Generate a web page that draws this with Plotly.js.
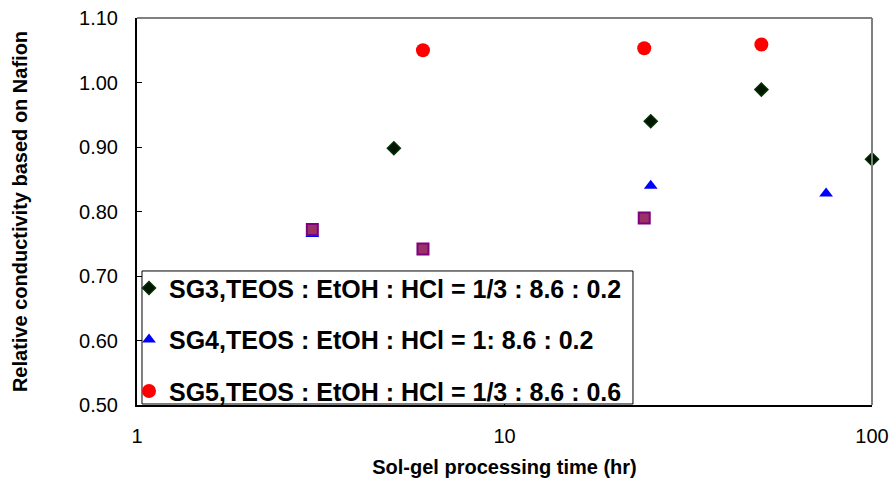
<!DOCTYPE html>
<html>
<head>
<meta charset="utf-8">
<script src="https://cdn.plot.ly/plotly-3.0.1.min.js"></script>
<style>html,body{margin:0;padding:0;background:#fff}#chart{width:893px;height:485px}</style>
</head>
<body>
<div id="chart"></div>
<script>
// Sol-gel processing time (hr)
const sg3Time = [5, 25, 50, 100];
const sg3Cond = [0.898, 0.940, 0.989, 0.881];
const sg4Time = [3, 25, 75];
const sg4Cond = [0.765, 0.840, 0.828];
const sg5Time = [6, 24, 50];
const sg5Cond = [1.050, 1.053, 1.059];
const extraTime = [3, 6, 24];
const extraCond = [0.772, 0.742, 0.790];

const sg3Name = 'SG3,TEOS : EtOH : HCl = 1/3 : 8.6 : 0.2';
const sg4Name = 'SG4,TEOS : EtOH : HCl = 1: 8.6 : 0.2';
const sg5Name = 'SG5,TEOS : EtOH : HCl = 1/3 : 8.6 : 0.6';
const yTicks = [0.5, 0.6, 0.7, 0.8, 0.9, 1.0, 1.1];
const xTicks = [1, 10, 100];

const traces = [
  {x: sg3Time, y: sg3Cond, name: sg3Name, type: 'scatter', mode: 'markers', cliponaxis: false, legendgroup: 'a',
   marker: {symbol: 'diamond', size: 10, color: '#001400', line: {color: '#003300', width: 1.5}}},
  {x: sg4Time, y: sg4Cond, name: sg4Name, type: 'scatter', mode: 'markers', cliponaxis: false, legendgroup: 'b',
   marker: {symbol: 'triangle-up', size: 12, color: '#0000ff'}},
  {x: sg5Time, y: sg5Cond, name: sg5Name, type: 'scatter', mode: 'markers', cliponaxis: false, legendgroup: 'c',
   marker: {symbol: 'circle', size: 14, color: '#ff0000'}},
  {x: extraTime, y: extraCond, name: 'extra', type: 'scatter', mode: 'markers', cliponaxis: false, showlegend: false,
   marker: {symbol: 'square', size: 11, color: '#993366', line: {color: '#800080', width: 2}}}
];

const layout = {
  width: 893, height: 485,
  margin: {l: 137, r: 21, t: 18, b: 80},
  paper_bgcolor: '#fff', plot_bgcolor: '#fff',
  font: {family: 'Arial, Liberation Sans, sans-serif', color: '#000'},
  showlegend: true,
  legend: {x: -0.0109, y: 0.361, xanchor: 'left', yanchor: 'top', bgcolor: 'rgba(0,0,0,0)',
           borderwidth: 0, tracegroupgap: 16, traceorder: 'grouped',
           font: {size: 25, family: 'Arial, Liberation Sans, sans-serif', color: '#000', weight: 'bold'},
           itemwidth: 30},
  xaxis: {type: 'log', range: [0, 2], tickvals: xTicks, ticktext: xTicks.map(String),
          ticks: 'inside', ticklen: 5, tickcolor: '#000', showgrid: false, zeroline: false,
          showline: true, linecolor: '#000', linewidth: 2,
          tickfont: {size: 20, color: '#000'}, ticklabelstandoff: 12,
          title: {text: 'Sol-gel processing time (hr)', font: {size: 20, weight: 'bold'}, standoff: 14}},
  yaxis: {range: [0.5, 1.1], tickvals: yTicks, tickformat: '.2f',
          ticks: 'inside', ticklen: 5, tickcolor: '#000', showgrid: false, zeroline: false,
          showline: true, linecolor: '#000', linewidth: 2,
          tickfont: {size: 20, color: '#000'}, ticklabelstandoff: 13,
          title: {text: 'Relative conductivity based on Nafion', font: {size: 20, weight: 'bold'}, standoff: 46}},
  shapes: [
    {type: 'line', xref: 'paper', yref: 'paper', x0: 0, x1: 1, y0: 1, y1: 1, line: {color: '#808080', width: 2}},
    {type: 'line', xref: 'paper', yref: 'paper', x0: 1, x1: 1, y0: 0, y1: 1, line: {color: '#808080', width: 2}},
    {type: 'rect', xref: 'paper', yref: 'paper', x0: 0.0068, x1: 0.6748, y0: 0.0026, y1: 0.3463,
     fillcolor: '#fff', line: {color: '#000', width: 1}, layer: 'above'}
  ]
};

Plotly.newPlot('chart', traces, layout, {displayModeBar: false, staticPlot: true});
</script>
</body>
</html>
